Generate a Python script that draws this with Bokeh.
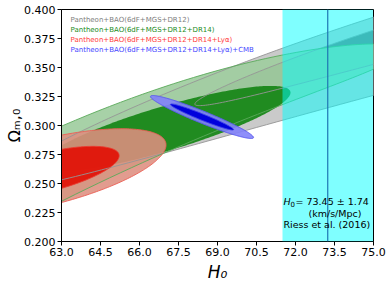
import numpy as np
from bokeh.plotting import figure
from bokeh.models import Range1d, FixedTicker, NumeralTickFormatter, BoxAnnotation, Span, Label
from bokeh.embed import file_html
from bokeh.resources import INLINE

# ---------------- data ----------------
x_ticks = [63.0, 64.5, 66.0, 67.5, 69.0, 70.5, 72.0, 73.5, 75.0]
y_ticks = [0.200, 0.225, 0.250, 0.275, 0.300, 0.325, 0.350, 0.375, 0.400]

# confidence contours (approximate shapes):
# centre (H0, Om), half extent in H0, half chord in Om, slope dOm/dH0, curvature
contour_names = ["gray2", "gray1", "green2", "green1", "red2", "red1", "blue2", "blue1"]
contour_H0 = [82.35, 82.35, 52.01, 67.00, 62.385, 62.385, 68.404, 68.404]
contour_Om = [0.40474, 0.41250, 0.12397, 0.29741, 0.2595, 0.2595, 0.30733, 0.30733]
contour_dH = [21.88, 14.22, 24.09, 4.808, 4.636, 2.831, 1.981, 1.212]
contour_dOm = [0.03578, 0.01724, 0.03638, 0.01983, 0.02931, 0.01724, 0.0056, 0.00285]
contour_slope = [0.005617, 0.005617, 0.015562, 0.006433, 0.005118, 0.005118, -0.00892, -0.00892]
contour_curv = [-0.0000699, -0.0000699, -0.0002314, 0.0, 0.0, 0.0, 0.0, 0.0]

legend_labels = ["Pantheon+BAO(6dF+MGS+DR12)",
                 "Pantheon+BAO(6dF+MGS+DR12+DR14)",
                 "Pantheon+BAO(6dF+MGS+DR12+DR14+Lyα)",
                 "Pantheon+BAO(6dF+MGS+DR12+DR14+Lyα)+CMB"]

riess_H0 = 73.24
riess_err = 1.74
riess_text = ["= 73.45 ± 1.74", "(km/s/Mpc)", "Riess et al. (2016)"]

# ---------------- styles ----------------
fill_colors = {"gray2": (196, 196, 196), "gray1": (110, 110, 110),
               "green2": (160, 205, 160), "green1": (25, 135, 25),
               "red2": (222, 142, 128), "red1": (225, 20, 8),
               "blue2": (130, 130, 250), "blue1": (0, 0, 220)}
fill_alphas = {"gray2": 0.9, "gray1": 0.9, "green2": 0.92, "green1": 0.95,
               "red2": 0.88, "red1": 0.95, "blue2": 0.9, "blue1": 1.0}
line_colors = {"gray2": (150, 150, 150), "gray1": (150, 150, 150),
               "green2": (90, 170, 90), "green1": None,
               "red2": (235, 95, 85), "red1": (235, 60, 50),
               "blue2": (90, 90, 240), "blue1": (60, 60, 240)}
legend_colors = ["#808080", "#228b22", "#ff3c3c", "#4646ff"]

W, H = 390, 284
FL, FT, FW, FH = 61, 9, 312, 232

p = figure(width=W, height=H, output_backend="svg", toolbar_location=None,
           x_range=Range1d(63, 75), y_range=Range1d(0.2, 0.4),
           min_border_left=FL, min_border_right=W - FL - FW,
           min_border_top=FT, min_border_bottom=H - FT - FH,
           background_fill_color="white", border_fill_color="white")
p.xgrid.visible = False
p.ygrid.visible = False
p.outline_line_color = "black"
p.outline_line_width = 1
p.outline_line_alpha = 1

for ax in (p.xaxis[0], p.yaxis[0]):
    ax.axis_line_color = "black"
    ax.major_tick_line_color = "black"
    ax.minor_tick_line_color = None
    ax.major_tick_in = 0
    ax.major_tick_out = 4
    ax.major_label_text_font = "DejaVu Sans"
    ax.major_label_text_font_size = "11px"
    ax.major_label_text_color = "black"
    ax.major_label_standoff = 2
    ax.axis_label_text_font = "DejaVu Sans"
    ax.axis_label_text_color = "black"
p.xaxis.ticker = FixedTicker(ticks=x_ticks)
p.yaxis.ticker = FixedTicker(ticks=y_ticks)
p.xaxis.formatter = NumeralTickFormatter(format="0.0")
p.yaxis.formatter = NumeralTickFormatter(format="0.000")
p.xaxis.axis_label = "H₀"
p.xaxis.axis_label_text_font_size = "17px"
p.xaxis.axis_label_text_font_style = "italic"
p.xaxis.axis_label_standoff = 3
p.yaxis.axis_label = "Ωₘ,₀"
p.yaxis.axis_label_text_font_size = "16px"
p.yaxis.axis_label_text_font_style = "normal"
p.yaxis.axis_label_standoff = -3

t = np.linspace(0, 2 * np.pi, 300)


def contour(i):
    u = contour_dH[i] * np.cos(t)
    hx = contour_H0[i] + u
    om = contour_Om[i] + contour_slope[i] * u + contour_curv[i] * u ** 2 + contour_dOm[i] * np.sin(t)
    return hx, om


shapes = {n: contour(i) for i, n in enumerate(contour_names)}

for n in ["gray2", "gray1", "green2", "green1", "red2", "red1"]:
    hx, om = shapes[n]
    p.patch(hx, om, fill_color=fill_colors[n], fill_alpha=fill_alphas[n], line_color=None)
for n in ["gray2", "gray1", "green2", "red2", "red1"]:
    hx, om = shapes[n]
    p.line(hx, om, line_color=line_colors[n], line_width=1, line_alpha=0.9)
for n in ["blue2", "blue1"]:
    hx, om = shapes[n]
    p.patch(hx, om, fill_color=fill_colors[n], fill_alpha=fill_alphas[n],
            line_color=line_colors[n], line_width=1)

band = BoxAnnotation(left=riess_H0 - riess_err, right=riess_H0 + riess_err,
                     fill_color="#00ffff", fill_alpha=0.5, line_alpha=0)
p.add_layout(band)
p.add_layout(Span(location=riess_H0, dimension="height", line_color="#1f77b4", line_width=1.2))


def dx(px):
    return 63 + (px - FL) / (FW / 12.0)


def dy(py):
    return 0.2 + (FT + FH - py) / (FH / 0.2)


def lab(x, y, text, size, color="black", style="normal", baseline="alphabetic", align="left"):
    p.add_layout(Label(x=dx(x), y=dy(y), text=text, text_font="DejaVu Sans",
                       text_font_size=f"{size}px", text_color=color, text_font_style=style,
                       text_baseline=baseline, text_align=align))


# legend
for k, (txt, col) in enumerate(zip(legend_labels, legend_colors)):
    lab(70, 19 + 10 * k, txt, 7, color=col, baseline="middle")

# Riess annotation
lab(283, 201, "H", 9.5, style="italic")
lab(290, 203, "0", 7)
lab(295, 201, riess_text[0], 9.5)
lab(308, 212.5, riess_text[1], 9.5)
lab(283, 224, riess_text[2], 9.5)

open("out.html", "w").write(file_html(p, INLINE))
